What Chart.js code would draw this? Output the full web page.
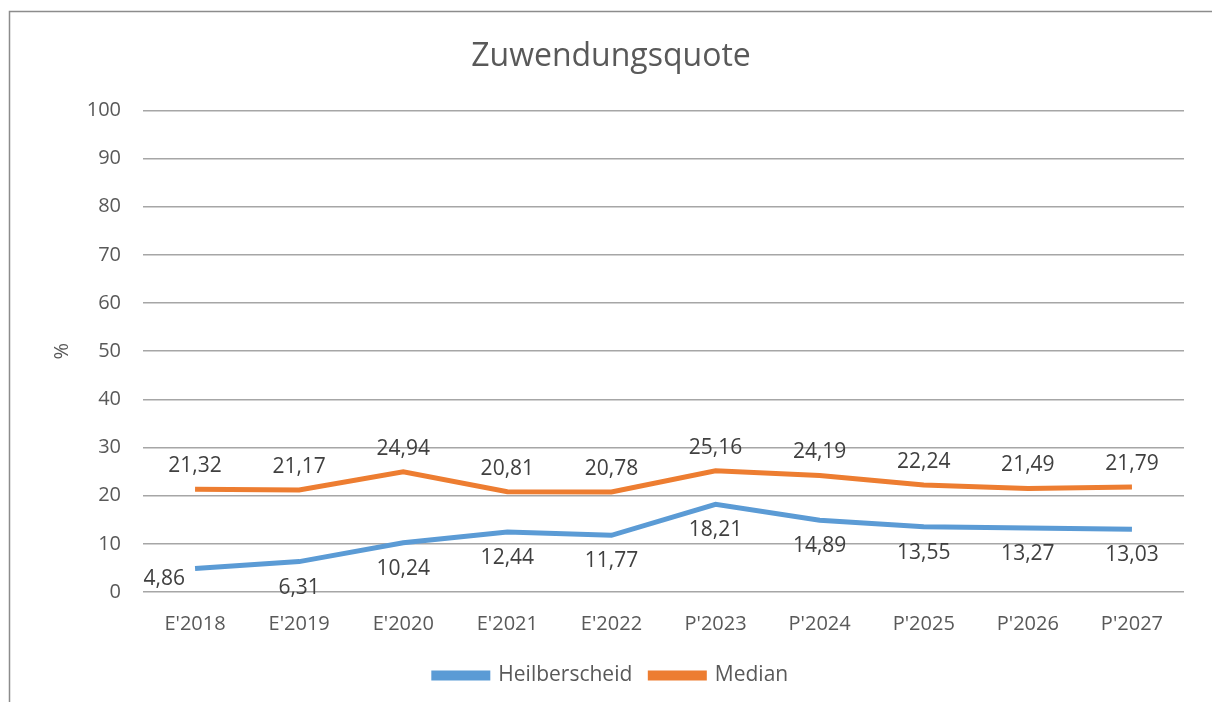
<!DOCTYPE html>
<html>
<head>
<meta charset="utf-8">
<script src="https://cdn.jsdelivr.net/npm/chart.js@4"></script>
<style>
  html, body { margin: 0; padding: 0; background: #fff; }
  #wrap { width: 1212px; height: 702px; }
</style>
</head>
<body>
<div id="wrap"><canvas id="chart" width="1212" height="702"></canvas></div>
<script>
'use strict';

// Chart data
var categories = ["E'2018", "E'2019", "E'2020", "E'2021", "E'2022", "P'2023", "P'2024", "P'2025", "P'2026", "P'2027"];
var heilberscheid = [4.86, 6.31, 10.24, 12.44, 11.77, 18.21, 14.89, 13.55, 13.27, 13.03];
var median = [21.32, 21.17, 24.94, 20.81, 20.78, 25.16, 24.19, 22.24, 21.49, 21.79];
var yTicks = [0, 10, 20, 30, 40, 50, 60, 70, 80, 90, 100];

var FONT = "'Open Sans', 'Noto Sans', sans-serif";
var TEXT = '#595959';

/**
 * Draws the outer frame (top and left edges are visible in the picture).
 */
var framePlugin = {
  id: 'frame',
  beforeDraw: function(chart) {
    var ctx = chart.ctx;
    ctx.save();
    ctx.fillStyle = '#fff';
    ctx.fillRect(0, 0, chart.width, chart.height);
    ctx.strokeStyle = '#8c8c8c';
    ctx.lineWidth = 1.5;
    ctx.beginPath();
    ctx.moveTo(9.5, chart.height);
    ctx.lineTo(9.5, 11.5);
    ctx.lineTo(chart.width, 11.5);
    ctx.stroke();
    ctx.restore();
  }
};

/**
 * Value labels with a comma as decimal separator.
 */
var valueLabels = {
  id: 'valueLabels',
  afterDatasetsDraw: function(chart) {
    var ctx = chart.ctx;
    ctx.save();
    ctx.font = '21px ' + FONT;
    ctx.fillStyle = '#404040';
    ctx.textBaseline = 'middle';
    chart.data.datasets.forEach(function(ds, di) {
      var meta = chart.getDatasetMeta(di);
      meta.data.forEach(function(pt, i) {
        var txt = ds.data[i].toFixed(2).replace('.', ',');
        var x = pt.x, y = pt.y;
        ctx.textAlign = 'center';
        if (ds.labelPos === 'below') {
          if (i === 0) {
            ctx.textAlign = 'right';
            x -= 10;
            y += 10;
          } else {
            y += 26;
          }
        } else {
          y -= 23;
        }
        ctx.fillText(txt, x, y);
      });
    });
    ctx.restore();
  }
};

var ctx = document.getElementById('chart').getContext('2d');
new Chart(ctx, {
  type: 'line',
  data: {
    labels: categories,
    datasets: [
      {
        label: 'Heilberscheid',
        data: heilberscheid,
        borderColor: '#5B9BD5',
        backgroundColor: '#5B9BD5',
        borderWidth: 5,
        pointRadius: 0,
        tension: 0,
        labelPos: 'below'
      },
      {
        label: 'Median',
        data: median,
        borderColor: '#ED7D31',
        backgroundColor: '#ED7D31',
        borderWidth: 5,
        pointRadius: 0,
        tension: 0,
        labelPos: 'above'
      }
    ]
  },
  options: {
    responsive: false,
    animation: false,
    layout: { padding: { left: 38, right: 28, top: 0, bottom: 6 } },
    plugins: {
      title: {
        display: true,
        text: 'Zuwendungsquote',
        color: TEXT,
        font: { family: FONT, size: 32, weight: 'normal' },
        padding: { top: 38, bottom: 34 }
      },
      legend: {
        position: 'bottom',
        labels: {
          color: TEXT,
          font: { family: FONT, size: 21 },
          boxWidth: 54,
          boxHeight: 5,
          padding: 18
        }
      },
      tooltip: { enabled: false }
    },
    scales: {
      x: {
        offset: true,
        grid: { display: false },
        border: { display: false },
        ticks: { color: TEXT, font: { family: FONT, size: 20 }, padding: 12, maxRotation: 0 },
        afterFit: function(s) { s.height = 55; }
      },
      y: {
        min: 0,
        max: 100,
        afterBuildTicks: function(s) {
          s.ticks = yTicks.map(function(v) { return { value: v }; });
        },
        grid: { color: '#a6a6a6', lineWidth: 1.5, drawTicks: false },
        border: { display: false },
        ticks: { color: TEXT, font: { family: FONT, size: 20 }, padding: 22 },
        title: {
          display: true,
          text: '%',
          color: TEXT,
          font: { family: FONT, size: 20 },
          padding: { top: 12, bottom: 0 }
        },
        afterFit: function(s) { s.width = 105; }
      }
    }
  },
  plugins: [framePlugin, valueLabels]
});
</script>
</body>
</html>
